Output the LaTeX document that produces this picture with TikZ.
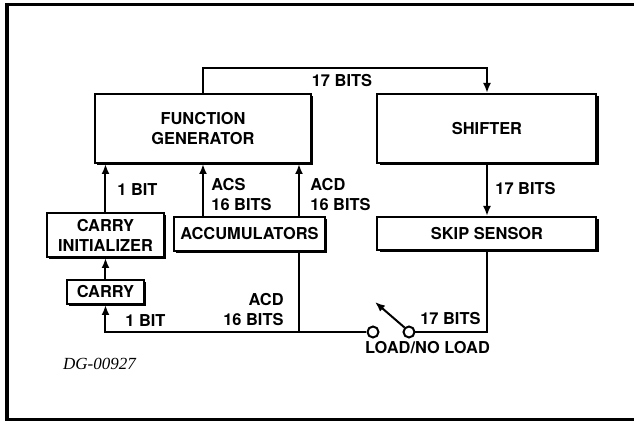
\documentclass[tikz,border=0pt]{standalone}
\usepackage{fontspec}
\setmainfont{TeX Gyre Heros}
\newfontfamily\dgfont{Liberation Serif}
\usetikzlibrary{arrows.meta,shadows}
\begin{document}
\begin{tikzpicture}[x=0.5pt,y=-0.5pt,
  font=\fontsize{8.2}{10}\selectfont\bfseries,
  blk/.style={draw,line width=1pt,fill=white,inner sep=0pt,align=center,
    drop shadow={shadow xshift=1.2pt,shadow yshift=-1.2pt,fill=black,opacity=1}},
  wire/.style={line width=1pt},
  arr/.style={wire,-{Latex[length=5pt,width=4pt]}},
  sw/.style={circle,draw,line width=1pt,fill=white,minimum size=5.5pt,inner sep=0pt},
  lbl/.style={inner sep=0pt}]
\useasboundingbox (0,0) rectangle (634,421);
\clip (0,0) rectangle (634,421);
\draw [line width=1.8pt] (7,4.5) rectangle (660,419.5);
\node[blk,minimum width=108pt,minimum height=34.5pt] (fg) at (203,128.5) {FUNCTION\\GENERATOR};
\node[blk,minimum width=109.5pt,minimum height=34.5pt] (sh) at (487,128.5) {SHIFTER};
\node[blk,minimum width=109.5pt,minimum height=16.5pt] (skip) at (487,233.5) {SKIP SENSOR};
\node[blk,minimum width=58.5pt,minimum height=22pt] (ci) at (105.5,235) {CARRY\\INITIALIZER};
\node[blk,minimum width=75.5pt,minimum height=17pt] (acc) at (249.5,234) {ACCUMULATORS};
\node[blk,minimum width=38.5pt,minimum height=12pt] (cy) at (105.5,292) {CARRY};
\node[sw] (sl) at (373,332) {};
\node[sw] (sr) at (409,332) {};
\coordinate (acd) at (299,251);
\coordinate (jn) at (299,332);
\coordinate (arm) at (375,302);
\draw [arr] (fg.north) -- ++(0,-25) -| (sh.north);
\draw [arr] (ci.north) -- (ci.north |- fg.south);
\draw [arr] (fg.south |- acc.north) -- (fg.south);
\draw [arr] (acd |- acc.north) -- (acd |- fg.south);
\draw [arr] (cy.north) -- (ci.south);
\draw [arr] (sl.west) -- (cy.south |- sl) -- (cy.south);
\draw [wire] (acd) -- (jn);
\draw [arr] (sh.south) -- (skip.north);
\draw [wire] (skip.south) |- (sr.east);
\draw [arr] (sr.north west) -- (arm);
\node[lbl] (t1) at (342,81) {17 BITS};
\node[lbl,anchor=west] (t2) at (117,190) {1 BIT};
\node[lbl,anchor=west,align=left] (t3) at (211,195) {ACS\\16 BITS};
\node[lbl,anchor=west,align=left] (t4) at (310,195) {ACD\\16 BITS};
\node[lbl,anchor=west] (t5) at (495,189) {17 BITS};
\node[lbl,anchor=west] (t6) at (125,321) {1 BIT};
\node[lbl,anchor=east,align=right] (t7) at (284,310) {ACD\\16 BITS};
\node[lbl,anchor=east] (t8) at (481,319) {17 BITS};
\node[lbl] (t9) at (427.5,348) {LOAD/NO LOAD};
\node[lbl,font=\fontsize{8.5}{10}\selectfont\dgfont\itshape] (dg) at (99.5,364) {DG-00927};
\end{tikzpicture}
\end{document}
